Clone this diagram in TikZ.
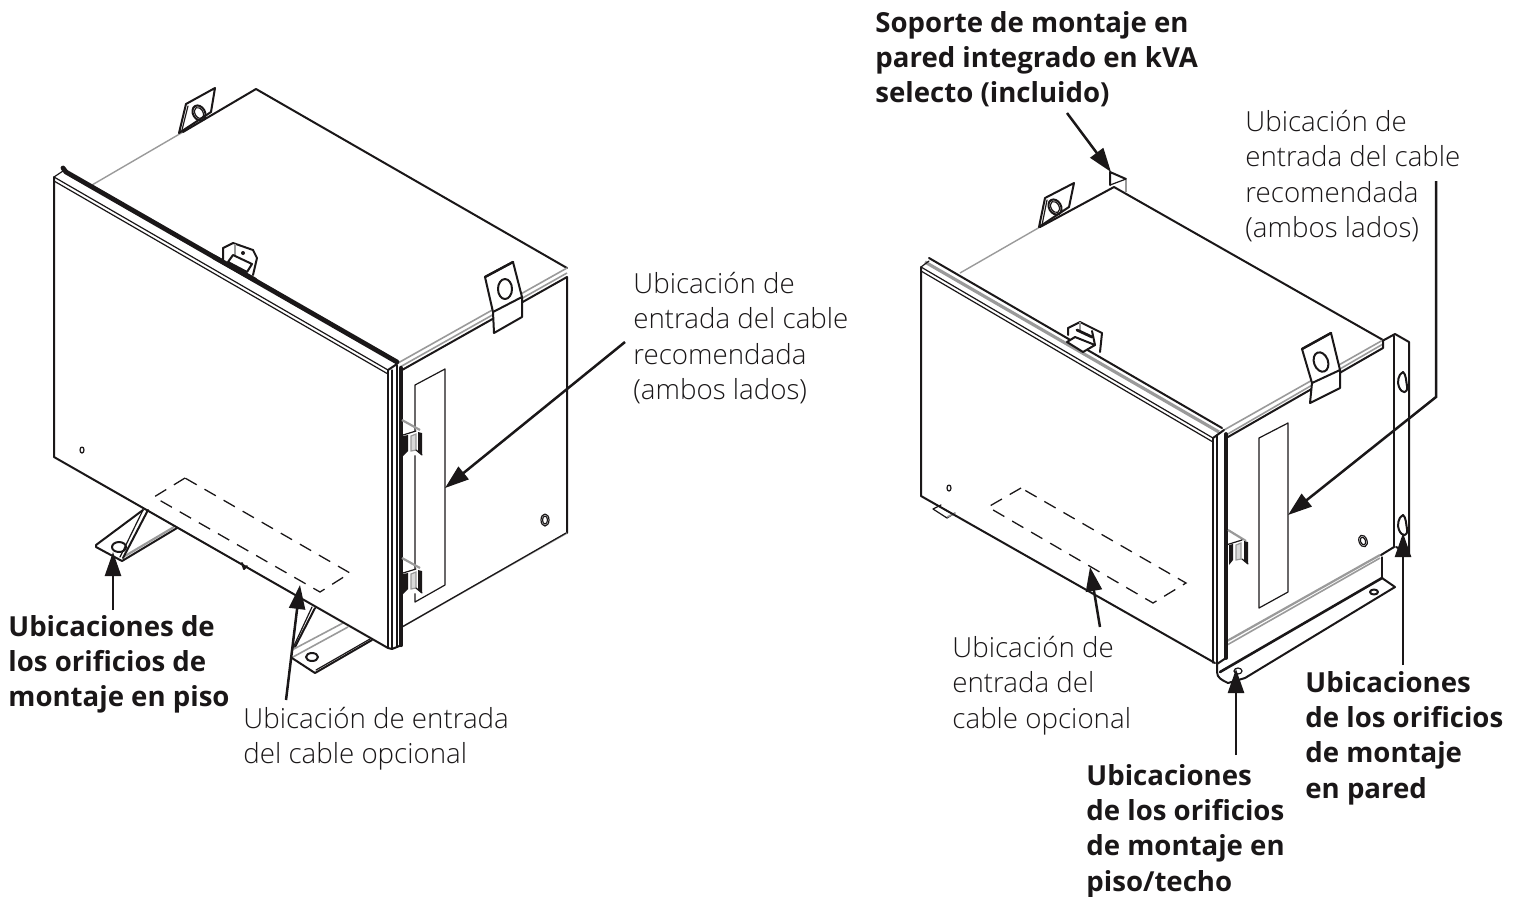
\documentclass[tikz,border=0pt]{standalone}
\usepackage{fontspec}
\setmainfont{Open Sans}
\newfontfamily\lightf[UprightFont={* Light},BoldFont={* Bold}]{Open Sans}
\usetikzlibrary{arrows.meta}
\definecolor{ink}{HTML}{1A1718}
\definecolor{rail}{HTML}{9A9A9A}
\tikzset{
  ln/.style={draw=ink,line width=1pt,line join=round,line cap=round},
  thin/.style={draw=ink,line width=0.6pt,line join=round,line cap=round},
  thick3/.style={draw=ink,line width=2.2pt,line cap=round},
  gry/.style={draw=rail,line width=0.8pt},
  dsh/.style={draw=ink,line width=0.65pt,dash pattern=on 6.5pt off 4.5pt},
  arr/.style={draw=ink,line width=1.25pt,-{Triangle[length=12pt,width=8pt]}},
  plain/.style={anchor=north west,inner sep=0pt,align=left,text=ink,font=\lightf\fontsize{13.85}{17.65}\selectfont},
  strong/.style={anchor=north west,inner sep=0pt,align=left,text=ink,font=\fontsize{13.8}{17.65}\selectfont\bfseries}
}
\begin{document}
\begin{tikzpicture}[x=0.5pt,y=-0.5pt]
\useasboundingbox (0,0) rectangle (1520,896);
% ===== LEFT UNIT =====
% feet
\draw[ln] (143,510) -- (96,545) -- (96,547) -- (122,561) -- (177,528);
\draw[gry,line width=1.1pt] (125,556) -- (174,527);
\draw[ln] (148,510) -- (123,558);
\draw[thin] (143,510) -- (120,557);
\draw[ln] (119,547) ellipse [x radius=7,y radius=5];
\draw[ln] (315,608) -- (295,647);
\draw[thin] (312,607) -- (292,650);
\draw[gry] (343,623) -- (292,650);
\draw[gry] (348,627) -- (293,657);
\draw[ln] (292,658) -- (315,673) -- (372,640);
\draw[thin] (316,670) -- (370,639);
\draw[ln] (312,657) ellipse [x radius=6,y radius=4];
\draw[ln] (242,563) -- (244,569) -- (247,566);
% top
\draw[gry,line width=0.7pt] (92,185) -- (183,132);
\draw[ln] (183,132) -- (256,89) -- (567,268);
\draw[gry] (398,363) -- (567,268);
\draw[gry] (400,367) -- (567,273);
% side panel
\draw[ln] (402,370) -- (567,277) -- (567,533);
\draw[gry] (402,627) -- (567,533);
\draw[thin] (402,627) -- (566,533);
% door
\draw[ln] (54,177) -- (54,457) -- (388,648) -- (392,649) -- (402,645);
\draw[thin] (54,177) -- (388,370);
\draw[thin] (54,181) -- (388,374);
\draw[thick3,line width=2.4pt] (63,168) -- (66,172) -- (397,362);
\draw[thin] (54,177) -- (63,171);
\draw[thin] (388,370) -- (388,648);
\draw[thin] (392,370) -- (392,648);
\draw[ln] (388,370) -- (397,364);
\draw[thick3] (401,368) -- (401,645);
\draw[thin] (397,365) -- (397,647);
% side slot
\draw[thin] (415,385) -- (445,369) -- (445,585) -- (415,602) -- cycle;
% hinges
\foreach \d in {0,138}{
  \begin{scope}[yshift=-\d*0.5pt]
  \draw[gry,line width=1.1pt] (402,420) -- (420,430);
  \fill[white] (403,435) -- (416,431) -- (422,433) -- (422,455) -- (403,456) -- cycle;
  \draw[thin] (403,435) -- (416,431);
  \fill[ink] (403,436) -- (408,435) -- (408,451) -- (403,456) -- cycle;
  \draw[gry,line width=0.6pt,fill=black!15] (411,436) -- (416,434) -- (416,450) -- (411,451) -- cycle;
  \fill[ink] (418,432) -- (422,433) -- (422,455) -- (418,452) -- cycle;
  \draw[thin] (416,450) -- (422,455);
  \end{scope}
}
\draw[thin] (545,520) ellipse [x radius=4,y radius=6];
\draw[thin] (545,520) ellipse [x radius=2.5,y radius=4];
\draw[thin] (82,450) ellipse [x radius=2,y radius=3];
% dashed slot
\draw[dsh] (185,478) -- (154,497) -- (320,592) -- (350,573) -- cycle;
% tags
\draw[ln,fill=white] (179,133) -- (186,104) -- (215,88) -- (211,112) -- cycle;
\draw[thin] (182,130) -- (188,106);
\draw[ln,rotate around={30:(199,113)}] (199,113) ellipse [x radius=6,y radius=8];
\draw[thin,rotate around={30:(199,113)}] (199,113) ellipse [x radius=4,y radius=6];
\draw[ln,fill=white] (485,277) -- (513,262) -- (522,297) -- (522,317) -- (494,333) -- (493,312) -- cycle;
\draw[ln] (493,312) -- (522,297);
\draw[thick3,line width=1.2pt] (485,277) -- (513,262);
\draw[ln] (505,289) ellipse [x radius=7,y radius=10];
% mid tag
\draw[ln,fill=white] (223,262) -- (223,248) -- (233,243) -- (253,250) -- (257,258) -- (253,275);
\draw[gry,line width=1.2pt] (235,244) -- (235,255);
\draw[ln,fill=white] (233,255) -- (228,262) -- (247,272) -- (252,264) -- cycle;
\fill[ink] (243,253) circle [radius=2];
\draw[thick3,line width=2.4pt] (214,257) -- (255,280);
% ===== RIGHT UNIT =====
% bracket at rear top
\draw[ln] (1110,185) -- (1110,172) -- (1126,179);
\draw[gry,line width=1pt] (1126,179) -- (1126,192);
\draw[thin] (1110,185) -- (1126,179);
% top
\draw[gry,line width=0.7pt] (960,273) -- (1040,227);
\draw[ln] (1040,227) -- (1114,187) -- (1383,340);
\draw[gry] (1224,430) -- (1383,340);
\draw[gry] (1226,435) -- (1383,344);
\draw[ln] (1228,437) -- (1383,348) -- (1383,340);
% small foot
\draw[thin] (941,505) -- (933,509) -- (947,518) -- (955,513);
\draw[gry] (947,517) -- (955,513);
% wall bracket
\draw[ln] (1384,340) -- (1395,334) -- (1409,342) -- (1409,553) -- (1396,547);
\draw[thick3,line width=1.3pt] (1394,336) -- (1394,547);
% side bottom flange
\draw[gry,line width=1.1pt] (1227,641) -- (1380,555);
\draw[gry] (1227,645) -- (1380,558);
\draw[ln] (1381,555) -- (1394,547);
\draw[thin] (1382,557) -- (1382,578);
\draw[thick3,line width=1.3pt] (1220,672) -- (1382,578);
\draw[ln] (1382,578) -- (1395,587) -- (1245,678) -- (1228,683) .. controls (1222,680) and (1217,678) .. (1217,672) -- (1217,664) -- (1226,658);
\draw[ln] (1374,592) ellipse [x radius=4,y radius=2.5];
\draw[thin] (1238,671) ellipse [x radius=4,y radius=3];
% door
\draw[ln] (921,267) -- (921,496) -- (1215,663);
\draw[thin] (921,267) -- (1213,438);
\draw[thin] (921,271) -- (1213,442);
\draw[ln] (929,258) -- (1222,428);
\draw[gry,line width=1.6pt] (925,262) -- (1219,432);
\draw[thin] (921,267) -- (929,261);
\draw[thin] (1213,438) -- (1213,663);
\draw[thin] (1217,436) -- (1217,664);
\draw[ln] (1213,438) -- (1224,430);
\draw[thick3,line width=1.9pt] (1226,434) -- (1226,658);
% side slot
\draw[thin] (1259,438) -- (1288,423) -- (1288,592) -- (1259,608) -- cycle;
% hinge
\draw[gry,line width=1.1pt] (1228,530) -- (1246,541);
\fill[white] (1229,544) -- (1242,540) -- (1248,542) -- (1248,564) -- (1229,565) -- cycle;
\draw[thin] (1226,545) -- (1242,540);
\fill[ink] (1229,545) -- (1233,544) -- (1233,560) -- (1229,565) -- cycle;
\draw[gry,line width=0.6pt,fill=black!15] (1236,545) -- (1241,543) -- (1241,559) -- (1236,560) -- cycle;
\fill[ink] (1244,541) -- (1248,542) -- (1248,564) -- (1244,561) -- cycle;
\draw[thin] (1242,559) -- (1248,564);
\draw[thin,rotate around={20:(1363,541)}] (1363,541) ellipse [x radius=4,y radius=6];
\draw[thin,rotate around={20:(1363,541)}] (1363,541) ellipse [x radius=2.5,y radius=4];
\draw[thin] (949,488) ellipse [x radius=2,y radius=3];
% keyholes
\draw[ln] (1403,372) .. controls (1398,374) and (1397,383) .. (1399,387) .. controls (1402,394) and (1408,394) .. (1407,386) .. controls (1406,381) and (1406,374) .. (1403,372) -- cycle;
\draw[ln] (1403,515) .. controls (1398,517) and (1397,526) .. (1399,530) .. controls (1402,537) and (1408,537) .. (1407,529) .. controls (1406,524) and (1406,517) .. (1403,515) -- cycle;
% dashed slot
\draw[dsh] (1021,488) -- (988,507) -- (1153,603) -- (1186,583) -- cycle;
% tags
\draw[ln,fill=white] (1039,227) -- (1045,198) -- (1074,183) -- (1069,207) -- cycle;
\draw[thin] (1042,225) -- (1047,200);
\draw[ln,rotate around={30:(1055,207)}] (1055,207) ellipse [x radius=6,y radius=8];
\draw[thin,rotate around={30:(1055,207)}] (1055,207) ellipse [x radius=4,y radius=6];
\draw[ln,fill=white] (1302,349) -- (1331,333) -- (1340,370) -- (1340,388) -- (1310,403) -- (1312,383) -- cycle;
\draw[ln] (1312,383) -- (1340,370);
\draw[thick3,line width=1.2pt] (1302,349) -- (1331,333);
\draw[ln,rotate around={20:(1321,362)}] (1321,362) ellipse [x radius=7,y radius=10];
% mid tag
\draw[ln,fill=white] (1068,335) -- (1068,328) -- (1080,322) -- (1102,333) -- (1100,352);
\draw[gry,line width=1.2pt] (1080,322) -- (1080,330);
\draw[ln,line width=1.4pt] (1077,330) -- (1092,337);
\draw[ln] (1092,331) -- (1095,345);
\draw[ln,fill=white] (1075,337) -- (1067,342) -- (1083,352) -- (1095,345) -- cycle;
% ===== LABELS =====
\node[plain] (lblA) at (633,272) {Ubicación de\\entrada del cable\\recomendada\\(ambos lados)};
\node[strong] (lblB) at (8,615) {Ubicaciones de\\los orificios de\\montaje en piso};
\node[plain] (lblC) at (243,707) {Ubicación de entrada\\del cable opcional};
\node[strong] (lblD) at (875,11) {Soporte de montaje en\\pared integrado en kVA\\selecto (incluido)};
\node[plain] (lblE) at (1245,110) {Ubicación de\\entrada del cable\\recomendada\\(ambos lados)};
\node[plain] (lblF) at (952,636) {Ubicación de\\entrada del\\cable opcional};
\node[strong] (lblG) at (1305,671) {Ubicaciones\\de los orificios\\de montaje\\en pared};
\node[strong] (lblH) at (1086,764) {Ubicaciones\\de los orificios\\de montaje en\\piso/techo};
% ===== ARROWS =====
\coordinate (a1) at (625,342); \coordinate (t1) at (445,488);
\coordinate (a2) at (113,610); \coordinate (t2) at (113,552);
\coordinate (a3) at (286,700); \coordinate (t3) at (300,585);
\coordinate (a4) at (1067,113); \coordinate (t4) at (1111,172);
\coordinate (a5) at (1436,181); \coordinate (b5) at (1436,397); \coordinate (t5) at (1288,515);
\coordinate (a6) at (1100,627); \coordinate (t6) at (1090,567);
\coordinate (a7) at (1403,665); \coordinate (t7) at (1403,533);
\coordinate (a8) at (1236,755); \coordinate (t8) at (1236,669);
\draw[arr] (a1) -- (t1);
\draw[arr] (a2) -- (t2);
\draw[arr] (a3) -- (t3);
\draw[arr] (a4) -- (t4);
\draw[arr,line join=miter] (a5) -- (b5) -- (t5);
\draw[arr] (a6) -- (t6);
\draw[arr] (a7) -- (t7);
\draw[arr] (a8) -- (t8);
\end{tikzpicture}
\end{document}
